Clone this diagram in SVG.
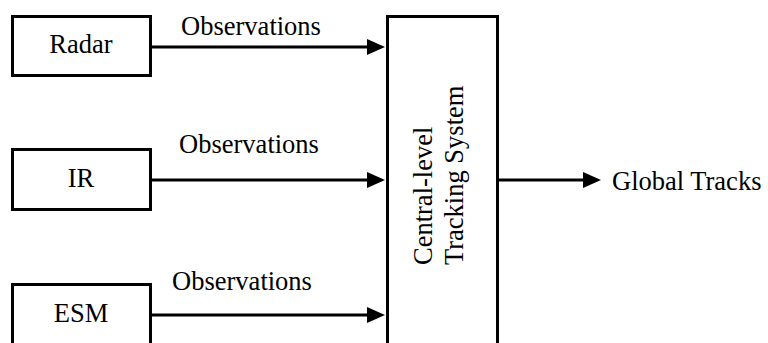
<svg xmlns="http://www.w3.org/2000/svg" width="768" height="343" viewBox="0 0 768 343">
<style>
.box{fill:#fff;stroke:#000;stroke-width:3}
.t{font-family:"Liberation Serif","Times New Roman",serif;font-size:26.5px;fill:#000}
.c{stroke:#000;stroke-width:3;fill:none}
.h{fill:#000;stroke:none}
</style>
<rect width="768" height="343" fill="#fff"/>
<g id="radar">
<rect class="box" x="12.5" y="16.5" width="138" height="59"/>
<text class="t" x="81" y="53" text-anchor="middle">Radar</text>
</g>
<g id="ir">
<rect class="box" x="12.5" y="149.5" width="138" height="60"/>
<text class="t" x="81" y="187" text-anchor="middle">IR</text>
</g>
<g id="esm">
<rect class="box" x="12.5" y="284.5" width="138" height="70"/>
<text class="t" x="81" y="322" text-anchor="middle">ESM</text>
</g>
<g id="central">
<rect class="box" x="387.5" y="16.5" width="110" height="340"/>
<text class="t" transform="translate(432,265) rotate(-90)">Central-level</text>
<text class="t" transform="translate(463,265) rotate(-90)">Tracking System</text>
</g>
<g id="global-tracks">
<text class="t" x="612" y="190">Global Tracks</text>
</g>
<g id="connectors">
<line class="c" x1="151" y1="47" x2="370" y2="47"/>
<polygon class="h" points="367,39 385,47 367,55"/>
<text class="t" x="251" y="35" text-anchor="middle">Observations</text>
<line class="c" x1="151" y1="180" x2="370" y2="180"/>
<polygon class="h" points="367,172 385,180 367,188"/>
<text class="t" x="249" y="153" text-anchor="middle">Observations</text>
<line class="c" x1="151" y1="315" x2="370" y2="315"/>
<polygon class="h" points="367,307 385,315 367,323"/>
<text class="t" x="242" y="290" text-anchor="middle">Observations</text>
<line class="c" x1="499" y1="180" x2="586" y2="180"/>
<polygon class="h" points="583,172 601,180 583,188"/>
</g>
</svg>
